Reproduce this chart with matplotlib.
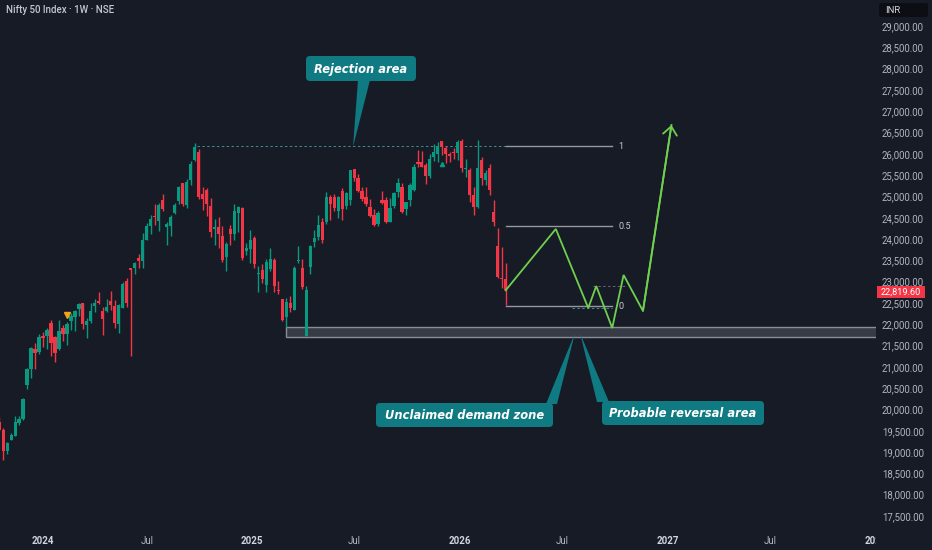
import matplotlib
matplotlib.use("Agg")
import matplotlib.pyplot as plt
import matplotlib.dates as mdates
import matplotlib.transforms as mtransforms
from matplotlib.patches import FancyBboxPatch, Polygon, Rectangle
import numpy as np
import pandas as pd

# ---------------- data ----------------
first_week = "2023-10-16"

opens_2023 = [19730, 19542, 19050, 19300, 19400, 19700, 19800, 20600, 20965, 21434, 21365]
highs_2023 = [19850, 19590, 19260, 19464, 19875, 19875, 20291, 21006, 21493, 21593, 21801]
lows_2023 = [19520, 18837, 18973, 19300, 19390, 19670, 19770, 20500, 20770, 20976, 21330]
closes_2023 = [19542, 19047, 19231, 19425, 19732, 19795, 20268, 20970, 21457, 21349, 21731]

opens_2024 = [21727, 21747, 22053, 21716, 21433, 21930, 21800, 22096, 22200, 22370, 22517, 22000, 22100,
              22456, 22578, 22339, 22336, 22570, 22442, 22028, 22404, 23038, 23338, 23338, 23570, 23500,
              24010, 24330, 24573, 24445, 24943, 24302, 24320, 24637, 24906, 25333, 24823, 25406, 25872,
              26061, 25084, 25186, 24798, 24251, 24315, 24087, 23605, 24253, 24140, 24633, 24753, 23738, 23796]
highs_2024 = [21834, 21928, 22124, 21750, 22126, 22011, 22068, 22297, 22353, 22526, 22526, 22180, 22516,
              22619, 22775, 22430, 22625, 22794, 22588, 22502, 23026, 23110, 23338, 23490, 23667, 24174,
              24401, 24592, 24854, 24862, 25078, 24419, 24590, 24867, 25268, 25333, 25433, 25849, 26277,
              26134, 25234, 25212, 24978, 24498, 24537, 24336, 23956, 24354, 24857, 24792, 24781, 23938, 24226]
lows_2024 = [21500, 21448, 21285, 21137, 21429, 21629, 21530, 21900, 21860, 22225, 21905, 21710, 22050,
             22304, 22503, 21777, 22300, 22348, 21932, 21821, 22404, 22418, 21281, 23206, 23350, 23350,
             23992, 24141, 24350, 24210, 24686, 23893, 24099, 24606, 24857, 24801, 24753, 25285, 25847,
             24966, 24694, 24567, 24073, 23893, 23816, 23484, 23263, 23874, 24008, 24180, 23537, 23647, 23460]
closes_2024 = [21711, 21895, 21572, 21353, 21854, 21783, 22041, 22213, 22339, 22494, 22023, 22097, 22327,
               22514, 22519, 22147, 22420, 22476, 22055, 22466, 22957, 22531, 23290, 23465, 23501, 24010,
               24323, 24502, 24530, 24834, 24718, 24367, 24541, 24823, 25235, 24852, 25356, 25791, 26179,
               25014, 24964, 24854, 24180, 24304, 24148, 23532, 23907, 24131, 24677, 24768, 23587, 23813, 24004]

opens_2025 = [24045, 23195, 23290, 22940, 23319, 23543, 22809, 22609, 22194, 22521, 22353, 23515, 23341,
              21758, 23368, 23949, 24070, 24420, 24420, 25005, 25000, 24670, 25160, 24788, 24940, 25661,
              25450, 25149, 24999, 24782, 24596, 24371, 24939, 24949, 24432, 24802, 25118, 25239, 24728,
              24929, 25177, 25843, 25843, 25763, 25503, 25948, 26013, 26325, 26160, 26010, 26060, 26040]
highs_2025 = [24089, 23391, 23426, 23546, 23807, 23568, 23049, 22625, 22633, 22676, 23402, 23869, 23565,
              22923, 23872, 24242, 24589, 24526, 25116, 25062, 25079, 25029, 25222, 25136, 25654, 25669,
              25548, 25255, 25247, 24956, 24734, 24674, 25154, 25001, 24980, 25139, 25448, 25331, 24904,
              25330, 25781, 26104, 26097, 25803, 26010, 26246, 26310, 26326, 26200, 26060, 26150, 26340]
lows_2025 = [23344, 22786, 22981, 22786, 23264, 22774, 22725, 22104, 21964, 22315, 22353, 23451, 22857,
             21743, 23207, 23847, 23996, 23935, 24378, 24462, 24671, 24526, 24473, 24737, 24825, 25378,
             25129, 24918, 24806, 24535, 24337, 24337, 24852, 24404, 24432, 24751, 25008, 24629, 24587,
             24802, 25152, 25718, 25705, 25318, 25449, 25860, 25842, 25985, 25800, 25820, 25900, 25880]
closes_2025 = [23431, 23203, 23092, 23482, 23560, 22929, 22796, 22125, 22552, 22397, 23350, 23519, 22904,
               22829, 23851, 24039, 24346, 24008, 25019, 24853, 24750, 25003, 24718, 25112, 25637, 25461,
               25150, 24968, 24837, 24565, 24363, 24631, 24870, 24427, 24741, 25114, 25327, 24655, 24894,
               25285, 25710, 25795, 25722, 25492, 25910, 26068, 26203, 26186, 26030, 25966, 26040, 26310]

opens_2026 = [26320, 25660, 25640, 25060, 24780, 25880, 25420, 25690, 24660, 23860, 23120, 23080]
highs_2026 = [26370, 25900, 25700, 25250, 26340, 25950, 25640, 25780, 24940, 24280, 23830, 23450]
lows_2026 = [25600, 25490, 24900, 24590, 24750, 25300, 25300, 25050, 24330, 23100, 22880, 22470]
closes_2026 = [25690, 25700, 25060, 24780, 25690, 25460, 25570, 25170, 24420, 23140, 23080, 22819.6]

opens = opens_2023 + opens_2024 + opens_2025 + opens_2026
highs = highs_2023 + highs_2024 + highs_2025 + highs_2026
lows = lows_2023 + lows_2024 + lows_2025 + lows_2026
closes = closes_2023 + closes_2024 + closes_2025 + closes_2026

# drawings
rejection_level = 26200
rejection_start = "2024-09-27"
fib_high = 26200
fib_low = 22450
fib_ratios = [1, 0.5, 0]
fib_end = "2026-09-26"
zone_bottom = 21724
zone_top = 21959
zone_start = "2025-03-03"
proj_dates = ["2026-03-23", "2026-06-19", "2026-08-15", "2026-08-29", "2026-09-26",
              "2026-10-16", "2026-11-19", "2027-01-08"]
proj_prices = [22819.6, 24260, 22405, 22920, 21935, 23180, 22335, 26700]

price_ticks = list(range(17500, 29001, 500))
time_ticks = ["2024-01-01", "2024-07-01", "2025-01-01", "2025-07-01", "2026-01-01",
              "2026-07-01", "2027-01-01", "2027-07-01", "2028-01-01"]
time_labels = ["2024", "Jul", "2025", "Jul", "2026", "Jul", "2027", "Jul", "2028"]

# ---------------- style ----------------
W, H = 932, 550
BG = "#171b26"
UP = "#089981"
DOWN = "#f23645"
TEAL = "#107a83"
TXT = "#b2b5be"
GREEN = "#6fd04f"

plt.rcParams["font.family"] = ["Roboto", "DejaVu Sans"]

fig = plt.figure(figsize=(W / 100, H / 100), dpi=100, facecolor=BG)
ax = fig.add_axes([0, 24 / H, 876 / W, 526 / H])
ax.set_facecolor(BG)
for s in ax.spines.values():
    s.set_visible(False)
ax.set_xticks([])
ax.set_yticks([])

d2n = lambda s: mdates.date2num(pd.Timestamp(s).to_pydatetime())
ax.set_xlim(d2n("2023-10-17 12:00"), d2n("2028-01-02"))
ax.set_ylim(17288.5, 29633.7)

pxT = mtransforms.Affine2D().scale(1 / W, -1 / H).translate(0, 1) + fig.transFigure

# candles
dates = pd.date_range(first_week, periods=len(closes), freq="W-MON")
x = mdates.date2num(dates.to_pydatetime())
o = np.array(opens, float)
c = np.array(closes, float)
hi = np.array(highs, float)
lo = np.array(lows, float)
col = np.where(c >= o, UP, DOWN)
ax.vlines(x, lo, hi, colors=col, lw=1.0, zorder=3)
ax.bar(x, np.maximum(np.abs(c - o), 28), bottom=np.minimum(o, c), width=5.6,
       color=col, lw=0, zorder=4)

# demand zone
zs = d2n(zone_start)
ax.add_patch(Rectangle((zs, zone_bottom), d2n("2028-02-01") - zs, zone_top - zone_bottom,
                       fc="#373b46", ec="#8a8d96", lw=1.0, zorder=2))

# rejection dashed line
ax.plot([d2n(rejection_start), x[-1]], [rejection_level, rejection_level],
        color="#3f8d93", lw=0.7, ls=(0, (2.5, 2.5)), zorder=2)

# fib levels
for r in fib_ratios:
    lvl = fib_low + (fib_high - fib_low) * r
    ax.plot([x[-1], d2n(fib_end)], [lvl, lvl], color="#9598a1", lw=1.0, zorder=2)
    ax.annotate(f"{r:g}", xy=(d2n(fib_end), lvl), xytext=(6, 0), textcoords="offset pixels",
                va="center", ha="left", fontsize=6.5, color="#c8cad0")

# small dashed helper lines near the lows
ax.plot([d2n("2026-07-18"), d2n("2026-09-26")], [proj_prices[2], proj_prices[2]],
        color="#3f8d93", lw=0.7, ls=(0, (2.5, 2.5)), zorder=2)
ax.plot([d2n("2026-08-24"), d2n("2026-10-22")], [proj_prices[3], proj_prices[3]],
        color="#6a6d78", lw=0.7, ls=(0, (2.5, 2.5)), zorder=2)

# projection path
px_ = [d2n(d) for d in proj_dates]
ax.plot(px_, proj_prices, color=GREEN, lw=1.3, zorder=5, solid_joinstyle="miter")
ax.annotate("", xy=(px_[-1], proj_prices[-1]), xytext=(px_[-2], proj_prices[-2]),
            arrowprops=dict(arrowstyle="->,head_length=0.6,head_width=0.5", color=GREEN,
                            lw=1.3, shrinkA=0, shrinkB=0, mutation_scale=10), zorder=5)

# markers
ax.plot([d2n("2024-02-12")], [22230], marker="v", ms=4, color="#f7a21b", zorder=6)
ax.plot([d2n("2025-12-01")], [25790], marker="^", ms=3, color=UP, zorder=6)

# price axis labels
tr_y = mtransforms.blended_transform_factory(fig.transFigure, ax.transData)
for v in price_ticks:
    ax.text(924 / W, v, f"{v:,.2f}", transform=tr_y, ha="right", va="center",
            fontsize=6.9, color=TXT, clip_on=False)
# current-price tag (box drawn as a patch, text slightly below centre like the reference)
cur_y = ax.transData.transform((0, closes[-1]))[1]
cur_px = H - cur_y
fig.add_artist(Rectangle((877, cur_px - 4.5), 48, 12, transform=pxT, fc=DOWN, ec="none", zorder=10))
fig.text(901, cur_px + 1.8, f"{closes[-1]:,.2f}", transform=pxT, ha="center", va="center",
         fontsize=6.6, color="white", zorder=11)

# time axis labels
tr_x = mtransforms.blended_transform_factory(ax.transData, fig.transFigure)
clip_rect = Rectangle((0, 0), 876 / W, 1, transform=fig.transFigure)
for d, lab in zip(time_ticks, time_labels):
    is_year = lab != "Jul"
    t = ax.text(d2n(d), 1 - 541 / H, lab, transform=tr_x, ha="center", va="center",
                fontsize=7, color="#d1d4dc" if is_year else TXT,
                fontweight="bold" if is_year else "normal", clip_on=False)
    t.set_clip_path(clip_rect)
    t.set_clip_on(True)

# title and currency box
fig.text(6, 10, "Nifty 50 Index · 1W · NSE", transform=pxT, ha="left", va="center",
         fontsize=7, color="#c4c7cf", fontweight="medium")
fig.add_artist(FancyBboxPatch((879, 3), 49, 14, boxstyle="round,pad=0,rounding_size=2",
                              transform=pxT, fc="#0c0e13", ec="none"))
fig.text(885, 10.5, "INR", transform=pxT, ha="left", va="center", fontsize=6.8, color="#d1d4dc")


# callouts
def callout(box, text, tri):
    x0, y0, x1, y1 = box
    fig.add_artist(Polygon(tri, closed=True, transform=pxT, fc=TEAL, ec="none", zorder=7))
    fig.add_artist(FancyBboxPatch((x0, y0), x1 - x0, y1 - y0,
                                  boxstyle="round,pad=0,rounding_size=4",
                                  transform=pxT, fc=TEAL, ec="none", zorder=8))
    fig.text((x0 + x1) / 2, (y0 + y1) / 2 + 0.5, text, transform=pxT, ha="center", va="center",
             fontsize=8.3, color="white", fontweight="bold", fontstyle="italic",
             family="DejaVu Sans", zorder=9)


callout((306, 56, 416, 81), "Rejection area", [(358, 80), (370, 80), (353, 147)])
callout((376, 403, 553, 427), "Unclaimed demand zone", [(546, 404), (557, 404), (575, 333)])
callout((602, 401, 764, 425), "Probable reversal area", [(597, 402), (609, 402), (580, 333)])

fig.savefig("out.png", dpi=100, facecolor=BG)
